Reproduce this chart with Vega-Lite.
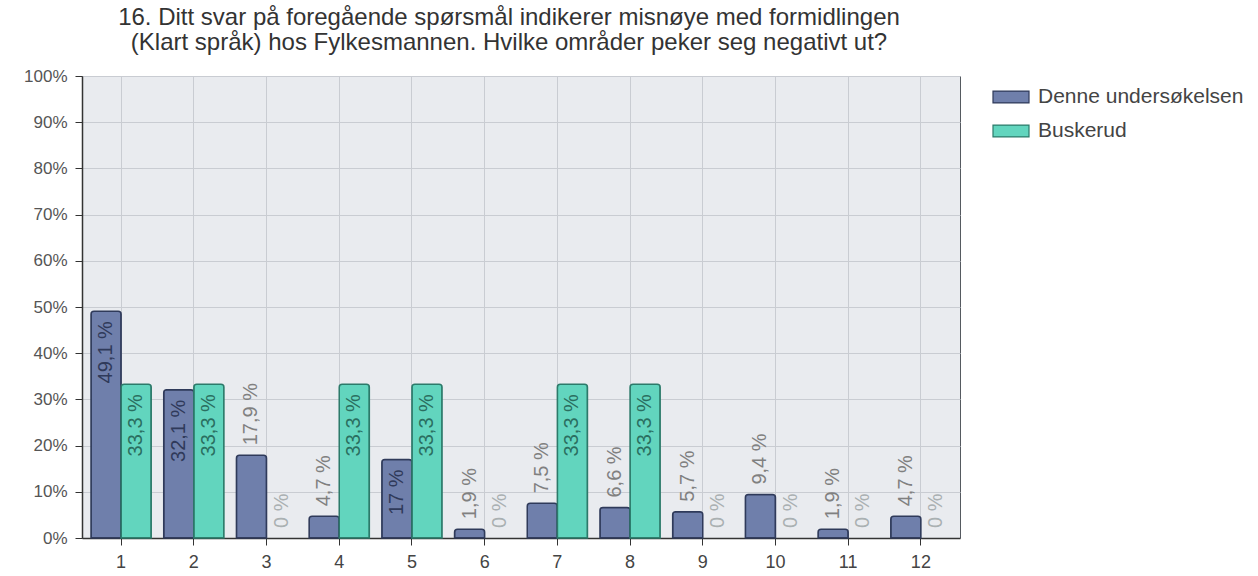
{
  "$schema": "https://vega.github.io/schema/vega-lite/v6.json",
  "autosize": {"type": "none"},
  "width": 878,
  "height": 462,
  "padding": {"left": 82, "top": 76, "right": 298, "bottom": 38},
  "background": "#ffffff",
  "config": {
    "font": "Liberation Sans",
    "view": {"fill": "#e9ebef", "stroke": "#555a60", "strokeWidth": 1},
    "axis": {"gridColor": "#c9ccd2", "gridWidth": 1, "domainColor": "#333333", "tickColor": "#333333", "labelColor": "#555555", "labelFont": "Liberation Sans"}
  },
  "title": {
    "text": ["16. Ditt svar på foregående spørsmål indikerer misnøye med formidlingen", "(Klart språk) hos Fylkesmannen. Hvilke områder peker seg negativt ut?"],
    "fontSize": 24,
    "fontWeight": "normal",
    "color": "#333333",
    "lineHeight": 25,
    "anchor": "middle",
    "offset": 12,
    "dx": -12,
    "font": "Liberation Sans"
  },
  "data": {
    "values": [
      {"cat": 1, "series": "Denne undersøkelsen", "v": 49.1, "lbl": "49,1 %"},
      {"cat": 1, "series": "Buskerud", "v": 33.3, "lbl": "33,3 %"},
      {"cat": 2, "series": "Denne undersøkelsen", "v": 32.1, "lbl": "32,1 %"},
      {"cat": 2, "series": "Buskerud", "v": 33.3, "lbl": "33,3 %"},
      {"cat": 3, "series": "Denne undersøkelsen", "v": 17.9, "lbl": "17,9 %"},
      {"cat": 3, "series": "Buskerud", "v": 0, "lbl": "0 %"},
      {"cat": 4, "series": "Denne undersøkelsen", "v": 4.7, "lbl": "4,7 %"},
      {"cat": 4, "series": "Buskerud", "v": 33.3, "lbl": "33,3 %"},
      {"cat": 5, "series": "Denne undersøkelsen", "v": 17, "lbl": "17 %"},
      {"cat": 5, "series": "Buskerud", "v": 33.3, "lbl": "33,3 %"},
      {"cat": 6, "series": "Denne undersøkelsen", "v": 1.9, "lbl": "1,9 %"},
      {"cat": 6, "series": "Buskerud", "v": 0, "lbl": "0 %"},
      {"cat": 7, "series": "Denne undersøkelsen", "v": 7.5, "lbl": "7,5 %"},
      {"cat": 7, "series": "Buskerud", "v": 33.3, "lbl": "33,3 %"},
      {"cat": 8, "series": "Denne undersøkelsen", "v": 6.6, "lbl": "6,6 %"},
      {"cat": 8, "series": "Buskerud", "v": 33.3, "lbl": "33,3 %"},
      {"cat": 9, "series": "Denne undersøkelsen", "v": 5.7, "lbl": "5,7 %"},
      {"cat": 9, "series": "Buskerud", "v": 0, "lbl": "0 %"},
      {"cat": 10, "series": "Denne undersøkelsen", "v": 9.4, "lbl": "9,4 %"},
      {"cat": 10, "series": "Buskerud", "v": 0, "lbl": "0 %"},
      {"cat": 11, "series": "Denne undersøkelsen", "v": 1.9, "lbl": "1,9 %"},
      {"cat": 11, "series": "Buskerud", "v": 0, "lbl": "0 %"},
      {"cat": 12, "series": "Denne undersøkelsen", "v": 4.7, "lbl": "4,7 %"},
      {"cat": 12, "series": "Buskerud", "v": 0, "lbl": "0 %"}
    ]
  },
  "encoding": {
    "x": {
      "field": "cat", "type": "ordinal",
      "scale": {"paddingInner": 0.172, "paddingOuter": 0.124},
      "axis": {"title": null, "labelAngle": 0, "labelFontSize": 18, "labelColor": "#444444", "tickSize": 7, "labelPadding": 8, "grid": true, "domainWidth": 1.5}
    },
    "xOffset": {"field": "series", "type": "nominal", "sort": ["Denne undersøkelsen", "Buskerud"], "scale": {"paddingInner": 0, "paddingOuter": 0}},
    "y": {
      "field": "v", "type": "quantitative",
      "scale": {"domain": [0, 100], "nice": false},
      "axis": {"title": null, "values": [0, 10, 20, 30, 40, 50, 60, 70, 80, 90, 100], "labelExpr": "datum.value + '%'", "labelFontSize": 17, "tickSize": 7, "labelPadding": 8, "domainWidth": 1.5}
    }
  },
  "layer": [
    {
      "transform": [{"filter": "datum.v > 0"}],
      "mark": {"type": "bar", "cornerRadiusTopLeft": 3, "cornerRadiusTopRight": 3, "strokeWidth": 1.5},
      "encoding": {
        "color": {
          "field": "series", "type": "nominal",
          "sort": ["Denne undersøkelsen", "Buskerud"],
          "scale": {"domain": ["Denne undersøkelsen", "Buskerud"], "range": ["#6f7fab", "#62d5be"]},
          "legend": {
            "title": null, "orient": "none", "legendX": 910, "legendY": 2,
            "symbolType": "M-1,-0.33H1V0.33H-1Z", "symbolSize": 1296,
            "symbolStrokeColor": "#3a4560", "symbolStrokeWidth": 1.2, "symbolOpacity": 1,
            "labelFontSize": 21, "labelColor": "#444444", "labelFont": "Liberation Sans", "labelLimit": 400,
            "rowPadding": 5, "labelOffset": 8, "padding": 0
          }
        },
        "stroke": {
          "field": "series", "type": "nominal",
          "scale": {"domain": ["Denne undersøkelsen", "Buskerud"], "range": ["#2f3a5a", "#2c7a6a"]},
          "legend": null
        }
      }
    },
    {
      "transform": [{"filter": "datum.v >= 30 || datum.lbl == '17 %'"}],
      "mark": {"type": "text", "angle": -90, "align": "right", "baseline": "middle", "dx": -10, "fontSize": 20, "font": "Liberation Sans"},
      "encoding": {
        "text": {"field": "lbl"},
        "fill": {"condition": {"test": "datum.series == 'Buskerud'", "value": "#2a6e60"}, "value": "#2f3a5a"}
      }
    },
    {
      "transform": [{"filter": "!(datum.v >= 30 || datum.lbl == '17 %')"}],
      "mark": {"type": "text", "angle": -90, "align": "left", "baseline": "middle", "dx": 10, "fontSize": 20, "font": "Liberation Sans"},
      "encoding": {
        "text": {"field": "lbl"},
        "fill": {"condition": {"test": "datum.v == 0", "value": "#aab0b2"}, "value": "#808080"}
      }
    }
  ]
}
